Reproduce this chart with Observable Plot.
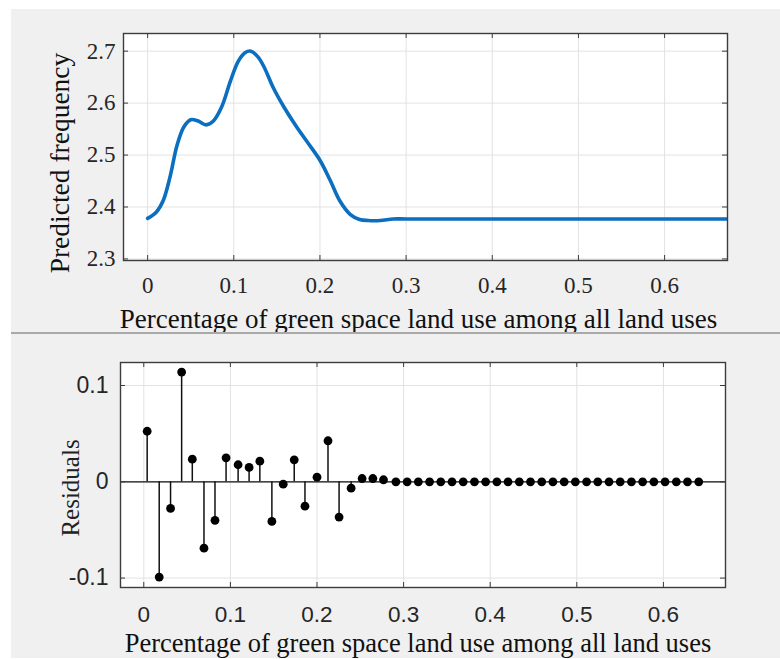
<!DOCTYPE html>
<html><head><meta charset="utf-8">
<script src="https://cdn.jsdelivr.net/npm/d3@7"></script>
<script src="https://cdn.jsdelivr.net/npm/@observablehq/plot@0.6"></script>
<style>
body{margin:0;background:#fff;width:780px;height:659px;position:relative;overflow:hidden}
.panel{position:absolute;left:11px;width:769px;background:#f0f0f0}
#top{top:9px;height:324px}
#divider{position:absolute;left:11px;width:769px;top:332px;height:2px;background:#a9a9a9}
#bot{top:334px;height:324px}
svg{display:block}
</style></head><body>
<div id="top" class="panel"></div><div id="divider"></div><div id="bot" class="panel"></div>
<script>
// Fitted curve (predicted frequency)
const fitX = [0.000,0.010,0.018,0.026,0.034,0.042,0.050,0.058,0.068,0.076,0.086,0.096,0.105,0.113,0.120,0.128,0.135,0.146,0.158,0.173,0.188,0.200,0.212,0.223,0.235,0.246,0.256,0.270,0.285,0.300,0.400,0.500,0.600,0.673];
const fitY = [2.378,2.390,2.412,2.458,2.518,2.554,2.568,2.566,2.558,2.565,2.593,2.642,2.680,2.697,2.700,2.689,2.670,2.629,2.593,2.554,2.519,2.490,2.451,2.412,2.386,2.376,2.374,2.374,2.377,2.377,2.377,2.377,2.377,2.377];
// Residuals
const resX = [0.0039,0.0178,0.0309,0.0437,0.0560,0.0695,0.0822,0.0950,0.1089,0.1216,0.1340,0.1479,0.1610,0.1737,0.1861,0.2000,0.2127,0.2255,0.2394,0.2521,0.2645,0.2768,0.2911,0.3041,0.3170,0.3300,0.3429,0.3559,0.3688,0.3818,0.3947,0.4077,0.4206,0.4336,0.4465,0.4595,0.4724,0.4854,0.4983,0.5113,0.5242,0.5372,0.5501,0.5631,0.5760,0.5890,0.6019,0.6149,0.6278,0.6408];
const resY = [0.0525,-0.099,-0.0277,0.114,0.0235,-0.069,-0.040,0.0249,0.0177,0.0149,0.0214,-0.0412,-0.0025,0.0228,-0.0253,0.0048,0.0426,-0.0367,-0.0066,0.0034,0.0034,0.0021,0,0,0,0,0,0,0,0,0,0,0,0,0,0,0,0,0,0,0,0,0,0,0,0,0,0,0,0];
// Ticks and labels
const xTicks = [0,0.1,0.2,0.3,0.4,0.5,0.6];
const topYTicks = [2.3,2.4,2.5,2.6,2.7];
const botYTicks = [-0.1,0,0.1];
const xLabel = "Percentage of green space land use among all land uses";
const topYLabel = "Predicted frequency";
const botYLabel = "Residuals";

const fit = fitX.map((x,i)=>({x, y: fitY[i]}));
const res = resX.map((x,i)=>({x, y: resY[i]}));

const SERIF = "'Liberation Serif','Times New Roman',serif";
const SANS = "'Liberation Sans',Arial,sans-serif";
const GRID = "#e2e2e2", FRAME = "#3c3c3c", TXT = "#262626";
const fmt = d => String(d);

function boxTicks(xt, yt, pw, ph, len) {
  return [
    Plot.ruleX(xt, {x: d=>d, insetTop: ph-len, stroke: FRAME, strokeWidth: 1}),
    Plot.ruleX(xt, {x: d=>d, insetBottom: ph-len, stroke: FRAME, strokeWidth: 1}),
    Plot.ruleY(yt, {y: d=>d, insetRight: pw-len, stroke: FRAME, strokeWidth: 1}),
    Plot.ruleY(yt, {y: d=>d, insetLeft: pw-len, stroke: FRAME, strokeWidth: 1})
  ];
}

// Top chart
{
  const W=769, H=324, mL=112, mR=53, mT=24, mB=73;
  const pw=W-mL-mR, ph=H-mT-mB;
  const chart = Plot.plot({
    width: W, height: H, marginLeft: mL, marginRight: mR, marginTop: mT, marginBottom: mB,
    style: {background: "transparent", overflow: "visible"},
    x: {domain: [-0.028, 0.673]},
    y: {domain: [2.297, 2.734]},
    marks: [
      Plot.frame({fill: "white"}),
      Plot.gridX(xTicks, {stroke: GRID, strokeOpacity: 1}),
      Plot.gridY(topYTicks, {stroke: GRID, strokeOpacity: 1}),
      Plot.line(fit, {x: "x", y: "y", stroke: "#0b6ebf", strokeWidth: 3.6, curve: "catmull-rom", clip: true}),
      ...boxTicks(xTicks, topYTicks, pw, ph, 5),
      Plot.frame({stroke: FRAME, strokeWidth: 1.4}),
      Plot.axisX({ticks: xTicks, tickSize: 0, tickPadding: 16, tickFormat: fmt, label: null, fontFamily: SERIF, fontSize: 23, fill: TXT}),
      Plot.axisY({ticks: topYTicks, tickSize: 0, tickPadding: 8, tickFormat: fmt, label: null, fontFamily: SERIF, fontSize: 23, fill: TXT}),
      Plot.text([xLabel], {text: d=>d, frameAnchor: "bottom", textAnchor: "middle", lineAnchor: "middle", dx: -7, dy: 59, fontFamily: SERIF, fontSize: 27, fill: "#111"}),
      Plot.text([topYLabel], {text: d=>d, frameAnchor: "left", textAnchor: "middle", lineAnchor: "middle", rotate: -90, dx: -63.5, dy: 16, fontFamily: SERIF, fontSize: 27.5, fill: "#111"})
    ]
  });
  document.getElementById("top").appendChild(chart);
}

// Bottom chart
{
  const W=769, H=324, mL=109, mR=55, mT=28, mB=71;
  const pw=W-mL-mR, ph=H-mT-mB;
  const chart = Plot.plot({
    width: W, height: H, marginLeft: mL, marginRight: mR, marginTop: mT, marginBottom: mB,
    style: {background: "transparent", overflow: "visible"},
    x: {domain: [-0.0269, 0.6717]},
    y: {domain: [-0.1098, 0.1239]},
    marks: [
      Plot.frame({fill: "white"}),
      Plot.gridX(xTicks, {stroke: GRID, strokeOpacity: 1}),
      Plot.gridY(botYTicks, {stroke: GRID, strokeOpacity: 1}),
      Plot.ruleY([0], {stroke: "#111", strokeWidth: 1.2}),
      Plot.ruleX(res, {x: "x", y1: 0, y2: "y", stroke: "#111", strokeWidth: 1.5}),
      Plot.dot(res, {x: "x", y: "y", r: 4.4, fill: "#000", stroke: "none"}),
      ...boxTicks(xTicks, botYTicks, pw, ph, 5),
      Plot.frame({stroke: FRAME, strokeWidth: 1.4}),
      Plot.axisX({ticks: xTicks, tickSize: 0, tickPadding: 19, tickFormat: fmt, label: null, fontFamily: SANS, fontSize: 22.5, fill: TXT}),
      Plot.axisY({ticks: botYTicks, tickSize: 0, tickPadding: 12, tickFormat: fmt, label: null, fontFamily: SANS, fontSize: 23, fill: TXT}),
      Plot.text([xLabel], {text: d=>d, frameAnchor: "bottom", textAnchor: "middle", lineAnchor: "middle", dx: -5, dy: 56.5, fontFamily: SERIF, fontSize: 26.5, fill: "#111"}),
      Plot.text([botYLabel], {text: d=>d, frameAnchor: "left", textAnchor: "middle", lineAnchor: "middle", rotate: -90, dx: -49.5, dy: 13, fontFamily: SERIF, fontSize: 25, fill: "#222"})
    ]
  });
  document.getElementById("bot").appendChild(chart);
}
</script>
</body></html>
